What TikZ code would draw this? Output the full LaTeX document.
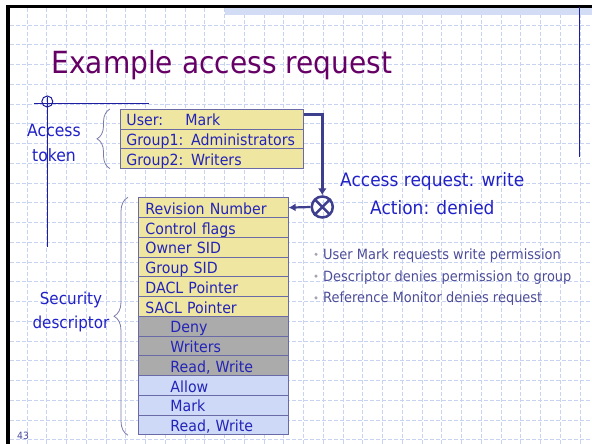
\documentclass[tikz,border=0pt]{standalone}
\usepackage{fontspec}
\setmainfont{DejaVu Sans}[FakeStretch=0.92]
\usetikzlibrary{arrows.meta,decorations.pathreplacing}
\definecolor{gridc}{HTML}{C8D3F2}
\definecolor{bandc}{HTML}{D3DCF5}
\definecolor{guidec}{HTML}{1E1EA0}
\definecolor{titlec}{HTML}{660066}
\definecolor{boxline}{HTML}{6A6AA6}
\definecolor{boxtext}{HTML}{2424B8}
\definecolor{labc}{HTML}{2121C8}
\definecolor{yellowf}{HTML}{EFE6A2}
\definecolor{grayf}{HTML}{ABABAB}
\definecolor{bluef}{HTML}{CDD9F7}
\definecolor{connc}{HTML}{3E3E8E}
\definecolor{bracec}{HTML}{7C7CAC}
\definecolor{bulc}{HTML}{4D4D99}
\definecolor{dotc}{HTML}{A4A4B4}
\definecolor{numc}{HTML}{4A4AA0}
\newcommand\myfs[1]{\fontsize{#1}{#1}\selectfont}
\begin{document}
\begin{tikzpicture}[x=1pt,y=-1pt,
  gridline/.style={gridc, line width=0.9pt, dash pattern=on 4pt off 2pt},
  guide/.style={guidec, line width=1pt},
  cellbox/.style={draw=boxline, line width=0.9pt, anchor=north west, inner ysep=0pt, align=left,
    text height=15pt, text depth=1.5pt, font=\myfs{15.4}, text=boxtext},
  tokrow/.style={cellbox, fill=yellowf, minimum width=182.7pt, minimum height=19.57pt, text width=170.7pt, inner xsep=6pt},
  sdrow/.style={cellbox, minimum width=149.4pt, minimum height=19.75pt, text width=136pt, inner xsep=6.7pt},
  lab/.style={inner sep=0pt, anchor=base, font=\myfs{17}, text=labc},
  reqtext/.style={inner sep=0pt, anchor=base west, font=\myfs{18.5}, text=labc},
  bul/.style={inner sep=0pt, anchor=base west, font=\myfs{14.1}, text=bulc},
  conn/.style={connc, line width=3pt, -{Latex[length=7pt,width=9pt]}},
  conntwo/.style={connc, line width=2.2pt, -{Latex[length=7pt,width=8pt]}},
  bracedec/.style={bracec, line width=0.8pt, decorate, decoration={brace, amplitude=#1}},
]
\useasboundingbox (0,0) rectangle (592,444);
\fill[white] (0,0) rectangle (592,444);
% grid
\foreach \i in {0,...,28} \draw[gridline] ({27+19.75*\i},8) -- ({27+19.75*\i},444);
\foreach \j in {0,...,21} \draw[gridline] (10,{25+19.75*\j}) -- (592,{25+19.75*\j});
% top band and borders
\fill[bandc] (225,7.3) rectangle (592,15);
\fill[black] (6,5) rectangle (592,8);
\fill[black] (6,5) rectangle (10,444);
% guide lines
\draw[guide] (34,103.3) -- (149.3,103.3);
\draw[guide] (47.3,97) -- (47.3,247);
\draw[guide] (47.3,101.5) circle (5.5);
\draw[guide] (579.3,6.7) -- (579.3,157.3);
% title
\node[anchor=base west, inner sep=0pt, text=titlec, font=\myfs{30.5}] (title) at (51.3,74) {Example access request};
% access token
\node[tokrow] (t1) at (120,109) {\makebox[59pt][l]{User:}Mark};
\node[tokrow] (t2) at (120,128.57) {Group1: Administrators};
\node[tokrow] (t3) at (120,148.14) {Group2: Writers};
\draw[bracedec=13pt] ([xshift=-10pt]t3.south west) -- ([xshift=-10pt]t1.north west);
\node[lab] (acc1) at (54,136.7) {Access};
\node[lab] (acc2) at (54,161) {token};
% security descriptor
\node[sdrow, fill=yellowf] (s1) at (138.3,197.3) {Revision Number};
\node[sdrow, fill=yellowf] (s2) at (138.3,217.05) {Control flags};
\node[sdrow, fill=yellowf] (s3) at (138.3,236.8) {Owner SID};
\node[sdrow, fill=yellowf] (s4) at (138.3,256.55) {Group SID};
\node[sdrow, fill=yellowf] (s5) at (138.3,276.3) {DACL Pointer};
\node[sdrow, fill=yellowf] (s6) at (138.3,296.05) {SACL Pointer};
\node[sdrow, fill=grayf] (s7) at (138.3,315.8) {\hspace*{25pt}Deny};
\node[sdrow, fill=grayf] (s8) at (138.3,335.55) {\hspace*{25pt}Writers};
\node[sdrow, fill=grayf] (s9) at (138.3,355.3) {\hspace*{25pt}Read, Write};
\node[sdrow, fill=bluef] (s10) at (138.3,375.05) {\hspace*{25pt}Allow};
\node[sdrow, fill=bluef] (s11) at (138.3,394.8) {\hspace*{25pt}Mark};
\node[sdrow, fill=bluef] (s12) at (138.3,414.55) {\hspace*{25pt}Read, Write};
\draw[bracedec=14pt] ([xshift=-10.3pt]s12.south west) -- ([xshift=-10.3pt]s1.north west);
\node[lab, font=\myfs{16.5}] (sec1) at (71,304) {Security};
\node[lab, font=\myfs{16.5}] (sec2) at (71,328) {descriptor};
% reference monitor
\node[draw=connc, line width=2.5pt, circle, minimum size=21pt, inner sep=0pt] (x) at (322.3,207) {};
\draw[connc, line width=2.5pt, shorten <=1pt, shorten >=1pt] (x.45) -- (x.225) (x.135) -- (x.315);
\draw[conn] ([yshift=-5pt]t1.north east) -| (x.north);
\draw[conntwo] (x.west) -- (s1.east);
\node[reqtext] (req) at (340,186.7) {Access request: write};
\node[reqtext] (act) at (370,214.5) {Action: denied};
% bullets
\fill[dotc] (316,254.3) circle (1.7);
\fill[dotc] (316,276.1) circle (1.7);
\fill[dotc] (316,297.9) circle (1.7);
\node[bul] (b1) at (323,259.3) {User Mark requests write permission};
\node[bul] (b2) at (323,281.1) {Descriptor denies permission to group};
\node[bul] (b3) at (323,302.9) {Reference Monitor denies request};
% page number
\node[anchor=base west, inner sep=0pt, font=\myfs{10}, text=numc] (pg) at (17,439.3) {43};
\end{tikzpicture}
\end{document}
